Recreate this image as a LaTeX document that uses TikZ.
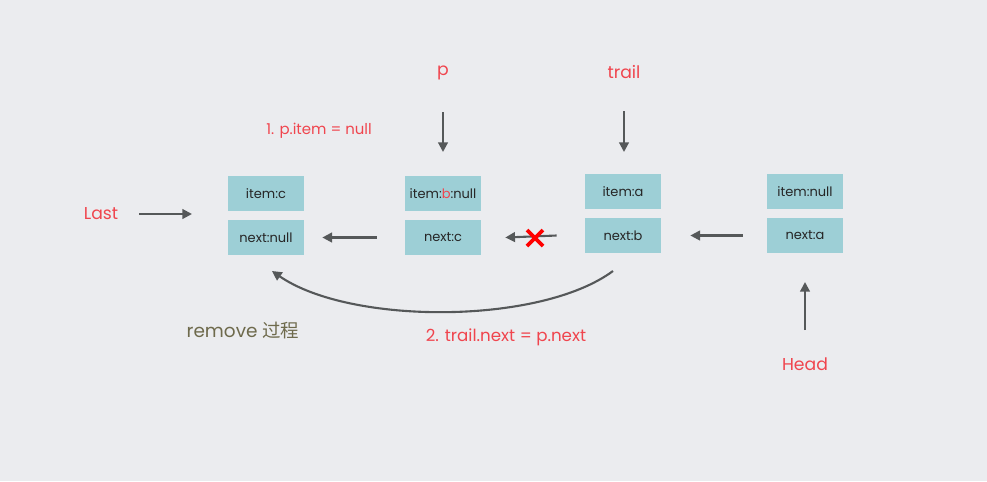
\documentclass[tikz,border=0pt]{standalone}
\usepackage{fontspec}
\setmainfont{Poppins}
\newfontfamily\cjk{Noto Sans CJK SC}
\usetikzlibrary{arrows.meta}

\definecolor{boxcyan}{HTML}{9DCFD6}
\definecolor{labelred}{HTML}{F0454E}
\definecolor{linkgray}{HTML}{555859}
\definecolor{olivetext}{HTML}{6E6A4C}
\definecolor{bgback}{HTML}{EBECEF}

\tikzset{
    cell/.style={fill=boxcyan, minimum width=1.52cm, minimum height=0.7cm,
        inner sep=0pt, font=\fontsize{7.4}{8}\selectfont, text=black!85},
    lbl/.style={text=labelred, font=\fontsize{9.8}{11}\selectfont},
    link/.style={-{Triangle[length=5.5pt,width=5.5pt]}, linkgray, line width=1.2pt}
}

\begin{document}
\begin{tikzpicture}[x=0.02cm, y=-0.02cm]
    % Background
    \fill[bgback] (0,0) rectangle (987,481);
    \useasboundingbox (0,0) rectangle (987,481);

    % Nodes: item / next cells
    \node[cell] (citem) at (266,193.5) {item:c};
    \node[cell] (cnext) at (266,237.5) {next:null};
    \node[cell] (bitem) at (443,193.5) {item:{\color{labelred}b}:null};
    \node[cell] (bnext) at (443,237.5) {next:c};
    \node[cell] (aitem) at (623,191.5) {item:a};
    \node[cell] (anext) at (623,235.5) {next:b};
    \node[cell] (hitem) at (805,191.5) {item:null};
    \node[cell] (hnext) at (805,235.5) {next:a};

    % Labels
    \node[lbl] (p) at (443,73) {p};
    \node[lbl] (trail) at (624,72) {trail};
    \node[lbl, anchor=east, font=\fontsize{8.5}{10}\selectfont] (step1) at (378,131) {1. p.item = null};
    \node[lbl] (last) at (101,214) {Last};
    \node[lbl] (head) at (805,364) {Head};
    \node[lbl, font=\fontsize{9.5}{11}\selectfont] (step2) at (506,337) {2. trail.next = p.next};
    \node[text=olivetext, font=\fontsize{10.5}{12}\selectfont] (remove) at (243,330) {remove {\cjk 过程}};

    % Free ends of the arrows
    \coordinate (pS) at (443,112);
    \coordinate (pE) at (443,152);
    \coordinate (tS) at (624,111);
    \coordinate (tE) at (624,152);
    \coordinate (lS) at (139,214);
    \coordinate (lE) at (192,214);
    \coordinate (hS) at (805,330);
    \coordinate (hE) at (805,282);
    \coordinate (curveS) at (613,271);
    \coordinate (curveE) at (272,271);

    % Pointers
    \draw[link] (pS) -- (pE);
    \draw[link] (tS) -- (tE);
    \draw[link] (lS) -- (lE);
    \draw[link] (hS) -- (hE);

    % Next links
    \draw[link] ([xshift=-0.56cm]bnext.west) -- ([xshift=0.36cm]cnext.east);
    \draw[link] ([xshift=-0.56cm]anext.west) -- ([xshift=0.48cm]bnext.east);
    \draw[link] ([xshift=-0.48cm]hnext.west) -- ([xshift=0.58cm]anext.east);

    % Broken link
    \draw[red, line width=2.2pt] (527,230) -- (543,246);
    \draw[red, line width=2.2pt] (527,246) -- (543,230);

    % New link trail.next = p.next
    \draw[link] (curveS) .. controls (540,325) and (350,325) .. (curveE);
\end{tikzpicture}
\end{document}
